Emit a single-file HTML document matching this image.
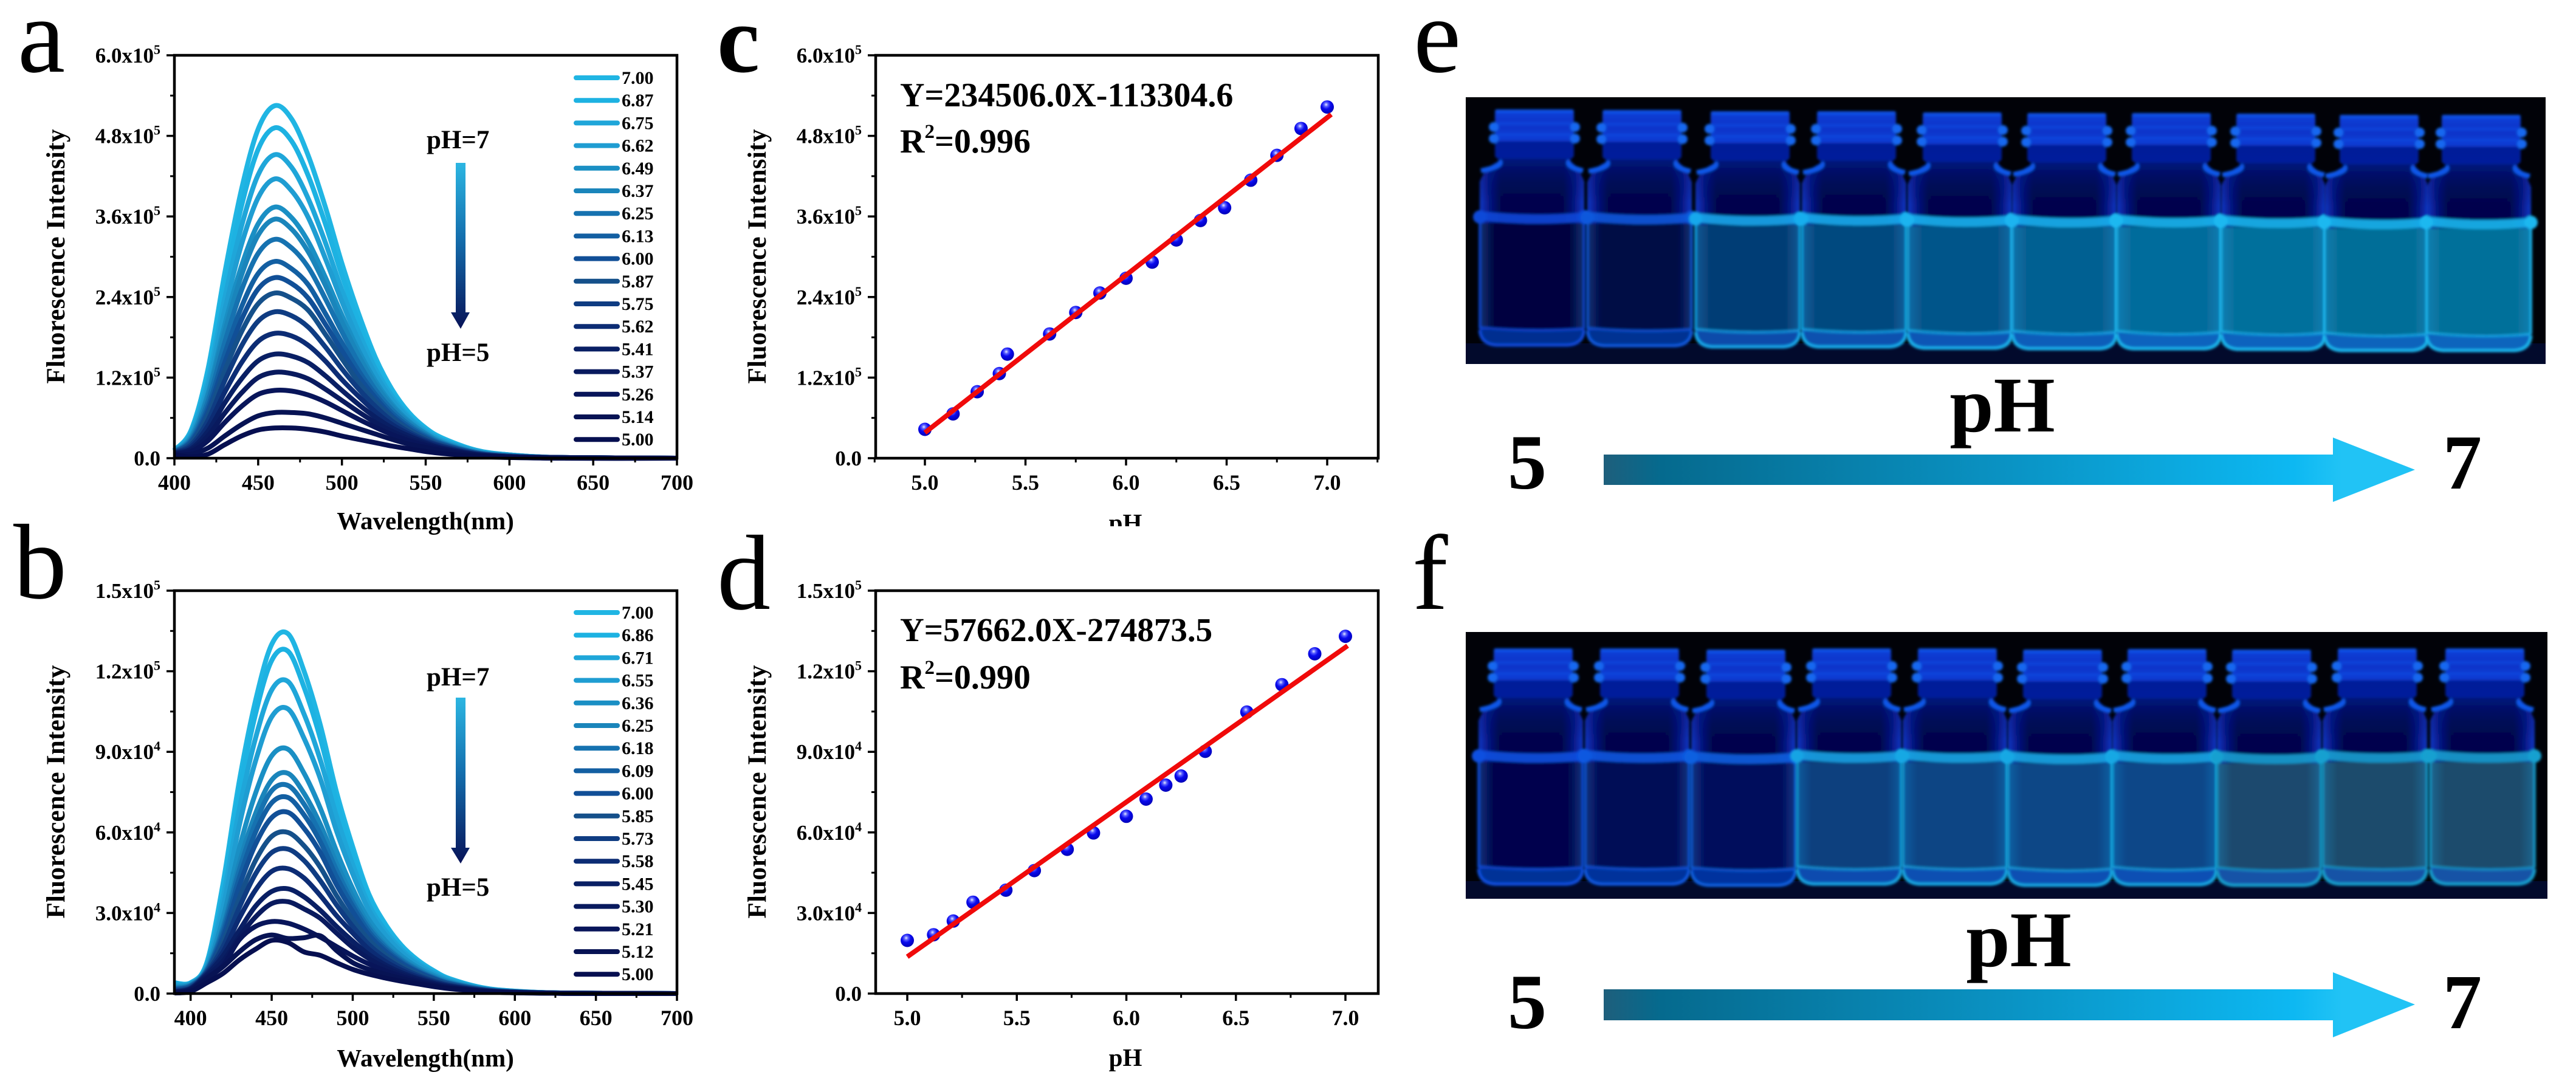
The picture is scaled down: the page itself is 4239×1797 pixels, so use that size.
<!DOCTYPE html>
<html lang="en">
<head>
<meta charset="utf-8">
<title>Fluorescence intensity versus pH</title>
<style>
html,body{margin:0;padding:0;background:#fff;}
svg{display:block;font-family:"Liberation Serif",serif;}
.bold{font-weight:bold;}
</style>
</head>
<body>
<svg id="figure" xmlns="http://www.w3.org/2000/svg" width="4239" height="1797" viewBox="0 0 4239 1797">
<defs>
<linearGradient id="downArrow" x1="0" y1="0" x2="0" y2="1"><stop offset="0" stop-color="#2cb6e2"/><stop offset=".45" stop-color="#146fae"/><stop offset="1" stop-color="#071358"/></linearGradient>
<linearGradient id="phArrow" gradientUnits="objectBoundingBox" x1="0" y1="0" x2="1" y2="0"><stop offset="0" stop-color="#1e5f7c"/><stop offset=".07" stop-color="#056a8e"/><stop offset=".5" stop-color="#0a93c4"/><stop offset=".85" stop-color="#0db8f2"/><stop offset=".91" stop-color="#21c3f5"/><stop offset="1" stop-color="#21c3f5"/></linearGradient>
<radialGradient id="ball" cx=".42" cy=".32" r=".68"><stop offset="0" stop-color="#e8ecff"/><stop offset=".22" stop-color="#5a60ff"/><stop offset=".5" stop-color="#0a0aee"/><stop offset="1" stop-color="#0000b8"/></radialGradient>
<linearGradient id="vialGlass" x1="0" y1="0" x2="1" y2="0"><stop offset="0" stop-color="#0a38c4"/><stop offset=".1" stop-color="#061480"/><stop offset=".2" stop-color="#03064e"/><stop offset=".8" stop-color="#03064e"/><stop offset=".9" stop-color="#061480"/><stop offset="1" stop-color="#0a38c4"/></linearGradient>
<linearGradient id="vialShade" x1="0" y1="0" x2="0" y2="1"><stop offset="0" stop-color="#0a2cb8" stop-opacity=".9"/><stop offset=".3" stop-color="#03064e" stop-opacity="0"/></linearGradient>
<linearGradient id="capGlass" x1="0" y1="0" x2="0" y2="1"><stop offset="0" stop-color="#0c40d8"/><stop offset=".3" stop-color="#0a34c8"/><stop offset=".62" stop-color="#0c3cd4"/><stop offset=".66" stop-color="#061c98"/><stop offset="1" stop-color="#06209c"/></linearGradient>
<linearGradient id="liquidSheen" x1="0" y1="0" x2="1" y2="0"><stop offset="0" stop-color="#28a8f0" stop-opacity=".28"/><stop offset=".14" stop-color="#28a8f0" stop-opacity="0"/><stop offset=".86" stop-color="#28a8f0" stop-opacity="0"/><stop offset="1" stop-color="#28a8f0" stop-opacity=".28"/></linearGradient>
<filter id="soft" filterUnits="userSpaceOnUse" x="2400" y="150" width="1800" height="1340"><feGaussianBlur stdDeviation="2.2"/></filter>
<clipPath id="clipE"><rect x="2412" y="160" width="1777" height="439"/></clipPath>
<clipPath id="clipF"><rect x="2412" y="1040" width="1780" height="439"/></clipPath>
<clipPath id="clipPh"><rect x="1780" y="830" width="160" height="36"/></clipPath>
</defs>

<rect x="0" y="0" width="4239" height="1797" fill="#fff"/>

<text x="29" y="118" font-size="176">a</text>
<text x="22" y="984" font-size="176">b</text>
<text class="bold" x="1180" y="118" font-size="158">c</text>
<text x="1180" y="1002" font-size="176">d</text>
<text x="2326" y="118" font-size="176">e</text>
<text x="2324" y="1002" font-size="176">f</text>

<g id="chartA"></g>
<g id="chartB"></g>
<g id="chartC"></g>
<g id="chartD"></g>

<text class="bold" x="700" y="871" font-size="41" text-anchor="middle">Wavelength(nm)</text>
<text class="bold" x="700" y="1755" font-size="41" text-anchor="middle">Wavelength(nm)</text>
<text class="bold" x="1852" y="874" font-size="41" text-anchor="middle" clip-path="url(#clipPh)">pH</text>
<text class="bold" x="1852" y="1754" font-size="41" text-anchor="middle">pH</text>
<text class="bold" x="106" y="422" font-size="43" text-anchor="middle" textLength="419" lengthAdjust="spacing" transform="rotate(-90 106 422)">Fluorescence Intensity</text>
<text class="bold" x="106" y="1303" font-size="43" text-anchor="middle" textLength="417" lengthAdjust="spacing" transform="rotate(-90 106 1303)">Fluorescence Intensity</text>
<text class="bold" x="1260" y="422" font-size="43" text-anchor="middle" textLength="419" lengthAdjust="spacing" transform="rotate(-90 1260 422)">Fluorescence Intensity</text>
<text class="bold" x="1260" y="1303" font-size="43" text-anchor="middle" textLength="417" lengthAdjust="spacing" transform="rotate(-90 1260 1303)">Fluorescence Intensity</text>

<text class="bold" x="702" y="244" font-size="43">pH=7</text>
<text class="bold" x="702" y="594" font-size="43">pH=5</text>
<polygon fill="url(#downArrow)" points="750,268 766,268 766,514 773,514 758,541 742,514 750,514"/>
<text class="bold" x="702" y="1128" font-size="43">pH=7</text>
<text class="bold" x="702" y="1474" font-size="43">pH=5</text>
<polygon fill="url(#downArrow)" points="750,1148 766,1148 766,1395 773,1395 758,1421 742,1395 750,1395"/>

<text class="bold" x="1481" y="175" font-size="56">Y=234506.0X-113304.6</text>
<text class="bold" x="1481" y="251" font-size="56">R<tspan font-size="33" dy="-24">2</tspan><tspan dy="24">=0.996</tspan></text>
<text class="bold" x="1481" y="1055" font-size="55">Y=57662.0X-274873.5</text>
<text class="bold" x="1481" y="1133" font-size="56">R<tspan font-size="33" dy="-24">2</tspan><tspan dy="24">=0.990</tspan></text>

<rect x="2412" y="160" width="1777" height="439" fill="#010208"/>
<rect x="2412" y="565" width="1777" height="34" fill="#020a2c"/>
<g id="vialsE" clip-path="url(#clipE)"></g>
<rect x="2412" y="1040" width="1780" height="439" fill="#010208"/>
<rect x="2412" y="1450" width="1780" height="29" fill="#020a2c"/>
<g id="vialsF" clip-path="url(#clipF)"></g>

<text class="bold" x="3295" y="710" font-size="130" text-anchor="middle">pH</text>
<text class="bold" x="2481" y="804" font-size="128">5</text>
<text class="bold" x="4020" y="804" font-size="128">7</text>
<polygon fill="url(#phArrow)" points="2639,748 3839,748 3839,720 3974,773 3839,826 3839,798 2639,798"/>
<text class="bold" x="3322" y="1590" font-size="130" text-anchor="middle">pH</text>
<text class="bold" x="2481" y="1692" font-size="128">5</text>
<text class="bold" x="4020" y="1692" font-size="128">7</text>
<polygon fill="url(#phArrow)" points="2639,1628 3839,1628 3839,1600 3974,1653 3839,1707 3839,1679 2639,1679"/>
</svg>

<script>
/* ---------- panel a: spectra (intensity in units of 1e5) ---------- */
const wavelengthsA = [400,410,420,430,440,450,460,470,480,490,500,510,520,530,540,550,560,580,600,630,700];
const phLabelsA = ["7.00","6.87","6.75","6.62","6.49","6.37","6.25","6.13","6.00","5.87","5.75","5.62","5.41","5.37","5.26","5.14","5.00"];
const spectraA = [
[.12,.42,1.32,2.75,4.0,4.9,5.25,5.05,4.5,3.75,2.9,2.15,1.5,1.02,.68,.45,.3,.12,.05,.01,0],
[.12,.4,1.25,2.58,3.75,4.6,4.92,4.72,4.2,3.5,2.72,2.02,1.42,.97,.65,.43,.28,.11,.05,.01,0],
[.11,.38,1.15,2.38,3.45,4.22,4.52,4.33,3.86,3.22,2.5,1.88,1.33,.92,.62,.41,.27,.11,.05,.01,0],
[.11,.35,1.06,2.2,3.18,3.88,4.16,3.98,3.58,2.98,2.33,1.75,1.25,.87,.59,.39,.26,.1,.04,.01,0],
[.1,.32,.96,1.98,2.86,3.49,3.74,3.58,3.22,2.7,2.13,1.6,1.15,.8,.55,.37,.24,.09,.04,.01,0],
[.1,.3,.92,1.88,2.72,3.32,3.56,3.41,3.07,2.58,2.03,1.53,1.1,.77,.53,.36,.23,.09,.04,.01,0],
[.1,.28,.84,1.72,2.5,3.05,3.26,3.13,2.84,2.38,1.88,1.42,1.02,.72,.5,.34,.22,.08,.03,.01,0],
[.09,.26,.76,1.55,2.25,2.75,2.93,2.82,2.58,2.16,1.72,1.3,.95,.67,.47,.32,.21,.08,.03,.01,0],
[.09,.24,.7,1.42,2.06,2.52,2.69,2.6,2.38,2.0,1.6,1.22,.9,.63,.44,.3,.2,.08,.03,.01,0],
[.09,.22,.64,1.3,1.88,2.3,2.46,2.38,2.2,1.85,1.48,1.13,.84,.6,.42,.29,.19,.07,.03,.01,0],
[.08,.2,.56,1.15,1.67,2.04,2.18,2.12,1.95,1.66,1.33,1.03,.77,.55,.39,.27,.18,.07,.03,.01,0],
[.08,.17,.48,.98,1.42,1.74,1.86,1.82,1.68,1.45,1.17,.92,.69,.5,.36,.25,.17,.06,.02,.01,0],
[.07,.14,.4,.82,1.18,1.45,1.55,1.52,1.42,1.23,1.01,.8,.61,.45,.33,.23,.15,.06,.02,.01,0],
[.07,.12,.33,.67,.97,1.2,1.28,1.26,1.18,1.03,.86,.69,.53,.4,.29,.21,.14,.05,.02,0,0],
[.06,.1,.26,.53,.77,.95,1.01,1.0,.94,.84,.71,.58,.46,.35,.26,.19,.13,.05,.02,0,0],
[.05,.06,.15,.33,.5,.63,.68,.68,.66,.6,.52,.44,.36,.28,.21,.16,.11,.04,.02,0,0],
[.05,.02,.06,.2,.33,.42,.45,.45,.43,.39,.33,.28,.23,.18,.14,.1,.07,.03,.01,0,0]
];
const seriesColors = ["#20b5e3","#1db2e2","#1fa6d9","#1f9dd2","#1a8fc4","#1a85bb","#1672b0","#135fa2","#114f97","#15508a","#0f3c82","#0c2c74","#091f64","#091a5e","#08155a","#071354","#060f50"];
const xTickValuesA = [400,450,500,550,600,650,700];
const xTickLabelsA = ["400","450","500","550","600","650","700"];
const xMinorValuesA = [425,475,525,575,625,675];
const yTickValuesA = [0,1.2,2.4,3.6,4.8,6.0];
const yTickMantissaA = ["0.0","1.2x10","2.4x10","3.6x10","4.8x10","6.0x10"];
const yTickExponentA = ["","5","5","5","5","5"];
const yMinorValuesA = [.6,1.8,3.0,4.2,5.4];

/* ---------- panel b: spectra (intensity in units of 1e4) ---------- */
const wavelengthsB = [390,400,410,420,430,440,450,460,470,480,490,500,510,520,530,540,550,560,580,600,630,700];
const phLabelsB = ["7.00","6.86","6.71","6.55","6.36","6.25","6.18","6.09","6.00","5.85","5.73","5.58","5.45","5.30","5.21","5.12","5.00"];
const spectraB = [
[.4,.4,1.16,4.1,7.9,10.9,13,13.4,12,10,7.5,5.46,3.7,2.6,1.8,1.25,.85,.55,.22,.09,.02,0],
[.4,.4,1.1,3.9,7.5,10.4,12.4,12.75,11.4,9.5,7.15,5.2,3.55,2.5,1.75,1.2,.82,.53,.21,.09,.02,0],
[.35,.38,1.05,3.55,6.85,9.5,11.3,11.62,10.4,8.7,6.6,4.8,3.3,2.35,1.65,1.15,.78,.51,.2,.08,.02,0],
[.3,.36,1,3.2,6.25,8.65,10.3,10.6,9.5,8,6.05,4.45,3.1,2.2,1.55,1.08,.74,.48,.19,.08,.02,0],
[.25,.34,.95,2.8,5.4,7.45,8.85,9.1,8.2,6.9,5.3,3.9,2.75,1.98,1.4,.98,.68,.44,.18,.07,.02,0],
[.2,.32,.9,2.5,4.85,6.7,7.95,8.2,7.45,6.3,4.85,3.6,2.55,1.82,1.3,.92,.63,.41,.17,.07,.02,0],
[.2,.3,.88,2.4,4.6,6.35,7.55,7.75,7.05,5.95,4.6,3.4,2.43,1.75,1.25,.88,.6,.39,.16,.07,.02,0],
[.15,.28,.85,2.25,4.3,6,7.1,7.3,6.65,5.65,4.35,3.25,2.3,1.66,1.18,.83,.57,.37,.15,.06,.02,0],
[.15,.26,.82,2.1,4,5.55,6.55,6.75,6.15,5.25,4.05,3.05,2.18,1.58,1.13,.8,.55,.36,.15,.06,.02,0],
[.1,.24,.8,1.9,3.55,4.95,5.85,6,5.5,4.7,3.65,2.75,2,1.45,1.04,.74,.5,.33,.14,.06,.01,0],
[.1,.22,.78,1.75,3.2,4.45,5.25,5.38,4.95,4.2,3.3,2.5,1.82,1.33,.96,.68,.47,.31,.13,.05,.01,0],
[.08,.2,.75,1.55,2.8,3.85,4.55,4.65,4.3,3.65,2.9,2.25,1.65,1.2,.87,.62,.43,.29,.12,.05,.01,0],
[.06,.18,.7,1.4,2.35,3.25,3.8,3.9,3.6,3.1,2.5,1.95,1.45,1.07,.78,.56,.39,.26,.11,.04,.01,0],
[.05,.16,.65,1.2,2.1,2.85,3.35,3.42,3.15,2.8,2.25,1.72,1.3,.97,.71,.52,.36,.24,.1,.04,.01,0],
[.04,.14,.6,1.05,2.0,2.5,2.68,2.62,2.4,2.1,1.75,1.4,1.1,.85,.64,.47,.33,.22,.09,.04,.01,0],
[.02,.12,.55,1.0,1.55,2.0,2.18,2.05,2.08,2.15,1.6,1.15,.9,.72,.56,.42,.3,.2,.08,.03,.01,0],
[.02,.08,.4,.75,1.25,1.65,1.98,1.9,1.55,1.42,1.15,.9,.72,.58,.46,.36,.26,.18,.08,.03,.01,0]
];
const xTickValuesB = [400,450,500,550,600,650,700];
const xTickLabelsB = ["400","450","500","550","600","650","700"];
const xMinorValuesB = [425,475,525,575,625,675];
const yTickValuesB = [0,3,6,9,12,15];
const yTickMantissaB = ["0.0","3.0x10","6.0x10","9.0x10","1.2x10","1.5x10"];
const yTickExponentB = ["","4","4","4","5","5"];
const yMinorValuesB = [1.5,4.5,7.5,10.5,13.5];

/* ---------- panel c: calibration (units of 1e5) ---------- */
const phValuesC = [5.00,5.14,5.26,5.37,5.41,5.62,5.75,5.87,6.00,6.13,6.25,6.37,6.49,6.62,6.75,6.87,7.00];
const intensityC = [.43,.66,.99,1.26,1.55,1.85,2.17,2.46,2.68,2.92,3.25,3.54,3.73,4.14,4.51,4.91,5.23];
const fitXC = [5.0,7.02];
const fitYC = [.38,5.12];
const xTickValuesC = [5.0,5.5,6.0,6.5,7.0];
const xTickLabelsC = ["5.0","5.5","6.0","6.5","7.0"];
const xMinorValuesC = [4.75,5.25,5.75,6.25,6.75,7.25];

/* ---------- panel d: calibration (units of 1e4) ---------- */
const phValuesD = [5.00,5.12,5.21,5.30,5.45,5.58,5.73,5.85,6.00,6.09,6.18,6.25,6.36,6.55,6.71,6.86,7.00];
const intensityD = [1.98,2.19,2.7,3.4,3.85,4.58,5.37,5.98,6.6,7.24,7.76,8.1,9.02,10.48,11.5,12.65,13.3];
const fitXD = [5.0,7.01];
const fitYD = [1.37,12.95];
const xTickValuesD = [5.0,5.5,6.0,6.5,7.0];
const xTickLabelsD = ["5.0","5.5","6.0","6.5","7.0"];
const xMinorValuesD = [5.25,5.75,6.25,6.75];

/* ---------- photo illustration tints ---------- */
const liquidE = ["#020540","#020745","#053d74","#05487f","#06558a","#066092","#066c9c","#056f9c","#056e98","#05709a"];
const edgeE = ["#0c48d8","#0c58dc","#18a8ec","#18aeee","#1ab4f0","#1ab4f0","#1ab8f0","#1ab8f0","#1ab8f0","#1ab8f0"];
const liquidF = ["#02064e","#030a56","#030c5c","#073f7e","#0a4484","#0a4686","#084688","#1a4a6e","#1c4c6c","#1a4c6c"];
const edgeF = ["#0c50e0","#0c58e0","#0c60e0","#18a4e4","#18a8e4","#18a8e4","#18a8e4","#14a0d0","#14a0d0","#14a0d0"];

const SVG_NS = "http://www.w3.org/2000/svg";
function mk(parent, tag, attrs, text){
  const el = document.createElementNS(SVG_NS, tag);
  for (const k in attrs) el.setAttribute(k, attrs[k]);
  if (text !== undefined) el.textContent = text;
  parent.appendChild(el);
  return el;
}
function scale(d0, d1, r0, r1){ return v => r0 + (v - d0) / (d1 - d0) * (r1 - r0); }
function smoothPath(pts){
  let d = "M" + pts[0][0].toFixed(1) + " " + pts[0][1].toFixed(1);
  for (let i = 0; i < pts.length - 1; i++){
    const p0 = pts[Math.max(i - 1, 0)], p1 = pts[i], p2 = pts[i + 1], p3 = pts[Math.min(i + 2, pts.length - 1)];
    const c1x = p1[0] + (p2[0] - p0[0]) / 6, c1y = p1[1] + (p2[1] - p0[1]) / 6;
    const c2x = p2[0] - (p3[0] - p1[0]) / 6, c2y = p2[1] - (p3[1] - p1[1]) / 6;
    d += "C" + c1x.toFixed(1) + " " + c1y.toFixed(1) + " " + c2x.toFixed(1) + " " + c2y.toFixed(1) + " " + p2[0].toFixed(1) + " " + p2[1].toFixed(1);
  }
  return d;
}
function drawAxes(g, box, sx, sy, xVals, xLabels, xMinor, yVals, yMant, yExp, yMinor){
  const frame = mk(g, "rect", {x:box.l, y:box.t, width:box.r-box.l, height:box.b-box.t, fill:"none", stroke:"#000", "stroke-width":4.5});
  
  
  xVals.forEach((v, i) => {
    const tick = mk(g, "line", {x1:sx(v), x2:sx(v), y1:box.b, y2:box.b+12, stroke:"#000", "stroke-width":3.5});
    
    
    const label = mk(g, "text", {x:sx(v), y:box.b+52, "font-size":36, "font-weight":"bold", "text-anchor":"middle"}, xLabels[i]);
    
    
  });
  xMinor.forEach(v => {
    const tick = mk(g, "line", {x1:sx(v), x2:sx(v), y1:box.b, y2:box.b+7, stroke:"#000", "stroke-width":3});
    
    
  });
  yVals.forEach((v, i) => {
    const tick = mk(g, "line", {x1:box.l-13, x2:box.l, y1:sy(v), y2:sy(v), stroke:"#000", "stroke-width":3.5});
    
    
    const label = mk(g, "text", {x:box.l-23, y:sy(v)+12, "font-size":35, "font-weight":"bold", "text-anchor":"end"}, yMant[i]);
    
    
    if (yExp[i]) {
      const sup = mk(label, "tspan", {"font-size":22, dy:-14}, yExp[i]);
      
      
    }
  });
  yMinor.forEach(v => {
    const tick = mk(g, "line", {x1:box.l-7, x2:box.l, y1:sy(v), y2:sy(v), stroke:"#000", "stroke-width":3});
    
    
  });
}
function drawSpectra(g, box, sx, sy, wavelengths, spectra, labels, legendTop){
  spectra.forEach((row, i) => {
    const pts = row.map((v, j) => [sx(wavelengths[j]), sy(v)]);
    const curve = mk(g, "path", {d:smoothPath(pts), fill:"none", stroke:seriesColors[i], "stroke-width":8, "stroke-linejoin":"round"});
    
    
  });
  labels.forEach((lab, i) => {
    const y = legendTop + i * 37.2;
    const key = mk(g, "line", {x1:948, x2:1016, y1:y, y2:y, stroke:seriesColors[i], "stroke-width":8, "stroke-linecap":"round"});
    
    
    const text = mk(g, "text", {x:1023, y:y+10, "font-size":30, "font-weight":"bold"}, lab);
    
    
  });
}
function drawCalibration(g, sx, sy, phs, vals, fitX, fitY){
  phs.forEach((p, i) => {
    const dot = mk(g, "circle", {cx:sx(p), cy:sy(vals[i]), r:11, fill:"url(#ball)"});
    
    
  });
  const fit = mk(g, "line", {x1:sx(fitX[0]), y1:sy(fitY[0]), x2:sx(fitX[1]), y2:sy(fitY[1]), stroke:"#f00a0a", "stroke-width":8});
  
  
}

/* chart a */
const boxA = {l:287, r:1114, t:91, b:754};
const sxA = scale(400, 700, boxA.l, boxA.r), syA = scale(0, 6, boxA.b, boxA.t);
const gA = document.getElementById("chartA");
drawSpectra(gA, boxA, sxA, syA, wavelengthsA, spectraA, phLabelsA, 128);
drawAxes(gA, boxA, sxA, syA, xTickValuesA, xTickLabelsA, xMinorValuesA, yTickValuesA, yTickMantissaA, yTickExponentA, yMinorValuesA);

/* chart b */
const boxB = {l:287, r:1114, t:972, b:1635};
const sxB = scale(390, 700, boxB.l, boxB.r), syB = scale(0, 15, boxB.b, boxB.t);
const gB = document.getElementById("chartB");
drawSpectra(gB, boxB, sxB, syB, wavelengthsB, spectraB, phLabelsB, 1008);
drawAxes(gB, boxB, sxB, syB, xTickValuesB, xTickLabelsB, xMinorValuesB, yTickValuesB, yTickMantissaB, yTickExponentB, yMinorValuesB);

/* chart c */
const boxC = {l:1441, r:2268, t:91, b:754};
const sxC = scale(5, 7, 1522, 2184), syC = scale(0, 6, boxC.b, boxC.t);
const gC = document.getElementById("chartC");
drawAxes(gC, boxC, sxC, syC, xTickValuesC, xTickLabelsC, xMinorValuesC, yTickValuesA, yTickMantissaA, yTickExponentA, yMinorValuesA);
drawCalibration(gC, sxC, syC, phValuesC, intensityC, fitXC, fitYC);

/* chart d */
const boxD = {l:1441, r:2268, t:972, b:1635};
const sxD = scale(5, 7, 1493, 2214), syD = scale(0, 15, boxD.b, boxD.t);
const gD = document.getElementById("chartD");
drawAxes(gD, boxD, sxD, syD, xTickValuesD, xTickLabelsD, xMinorValuesD, yTickValuesB, yTickMantissaB, yTickExponentB, yMinorValuesB);
drawCalibration(gD, sxD, syD, phValuesD, intensityD, fitXD, fitYD);

/* vial illustrations */
function drawVial(g, cx, t, liquid, edge){
  const vial = mk(g, "g", {filter:"url(#soft)"});
  
  
  const L = cx - 86, R = cx + 86, neck = cx + 4;
  const outline = `M${neck-60} ${t+50}L${neck-60} ${t+84}Q${L+8} ${t+96} ${L} ${t+118}L${L} ${t+362}Q${L+2} ${t+387} ${cx-55} ${t+387}L${cx+55} ${t+387}Q${R-2} ${t+387} ${R} ${t+362}L${R} ${t+118}Q${R-8} ${t+96} ${neck+60} ${t+84}L${neck+60} ${t+50}Z`;
  mk(vial, "path", {d:outline, fill:"url(#vialGlass)"});
  mk(vial, "path", {d:outline, fill:"url(#vialShade)"});
  mk(vial, "rect", {x:L, y:t+186, width:172, height:174, fill:liquid});
  mk(vial, "rect", {x:L, y:t+186, width:172, height:174, fill:"url(#liquidSheen)"});
  mk(vial, "path", {d:`M${L+2} ${t+100}Q${neck-50} ${t+92} ${neck-58} ${t+84}`, fill:"none", stroke:"#1058ea", "stroke-width":8});
  mk(vial, "path", {d:`M${R-2} ${t+100}Q${neck+50} ${t+92} ${neck+58} ${t+84}`, fill:"none", stroke:"#1058ea", "stroke-width":8});
  mk(vial, "rect", {x:neck-65, y:t, width:130, height:80, rx:6, fill:"url(#capGlass)"});
  mk(vial, "rect", {x:neck-65, y:t-1, width:130, height:6, rx:3, fill:"#1050e4"});
  mk(vial, "rect", {x:neck-60, y:t+20, width:120, height:5, fill:"#0f4ae0", opacity:.7});
  mk(vial, "rect", {x:neck-60, y:t+38, width:120, height:5, fill:"#0f4ae0", opacity:.7});
  mk(vial, "ellipse", {cx:neck-67, cy:t+28, rx:8, ry:8, fill:"#1468f0"});
  mk(vial, "ellipse", {cx:neck+67, cy:t+28, rx:8, ry:8, fill:"#1468f0"});
  mk(vial, "ellipse", {cx:neck-67, cy:t+47, rx:8, ry:8, fill:"#1468f0"});
  mk(vial, "ellipse", {cx:neck+67, cy:t+47, rx:8, ry:8, fill:"#1468f0"});
  mk(vial, "line", {x1:L, x2:L, y1:t+186, y2:t+360, stroke:edge, "stroke-width":3.5});
  mk(vial, "line", {x1:R, x2:R, y1:t+186, y2:t+360, stroke:edge, "stroke-width":3.5});
  mk(vial, "path", {d:`M${L} ${t+174}Q${cx} ${t+184} ${R} ${t+176}`, fill:"none", stroke:edge, "stroke-width":15, opacity:.9});
  mk(vial, "circle", {cx:L, cy:t+176, r:11, fill:edge});
  mk(vial, "circle", {cx:R, cy:t+176, r:11, fill:edge});
  mk(vial, "path", {d:`M${L+1} ${t+362}Q${L+2} ${t+386} ${cx-55} ${t+386}L${cx+55} ${t+386}Q${R-3} ${t+386} ${R-1} ${t+362}Z`, fill:liquid});
  mk(vial, "path", {d:`M${L+1} ${t+362}Q${L+2} ${t+386} ${cx-55} ${t+386}L${cx+55} ${t+386}Q${R-3} ${t+386} ${R-1} ${t+362}Z`, fill:"#0a5ae0", opacity:.5});
  mk(vial, "path", {d:`M${L} ${t+358}Q${cx} ${t+366} ${R} ${t+360}`, fill:"none", stroke:edge, "stroke-width":4, opacity:.8});
  mk(vial, "path", {d:`M${L} ${t+362}Q${L+2} ${t+387} ${cx-55} ${t+387}L${cx+55} ${t+387}Q${R-2} ${t+387} ${R} ${t+362}`, fill:"none", stroke:edge, "stroke-width":5});
}
const centersE = [2521,2698,2876,3051,3225,3397,3569,3741,3911,4079];
const topsE = [181,182,184,184,186,187,187,188,190,190];
const centersF = [2519,2694,2869,3043,3217,3390,3562,3734,3908,4085];
const topsF = [1068,1068,1070,1068,1068,1070,1069,1070,1068,1068];
const vialsE = document.getElementById("vialsE");
const vialsF = document.getElementById("vialsF");
centersE.forEach((cx, i) => drawVial(vialsE, cx, topsE[i], liquidE[i], edgeE[i]));
centersF.forEach((cx, i) => drawVial(vialsF, cx, topsF[i], liquidF[i], edgeF[i]));
</script>
</body>
</html>
